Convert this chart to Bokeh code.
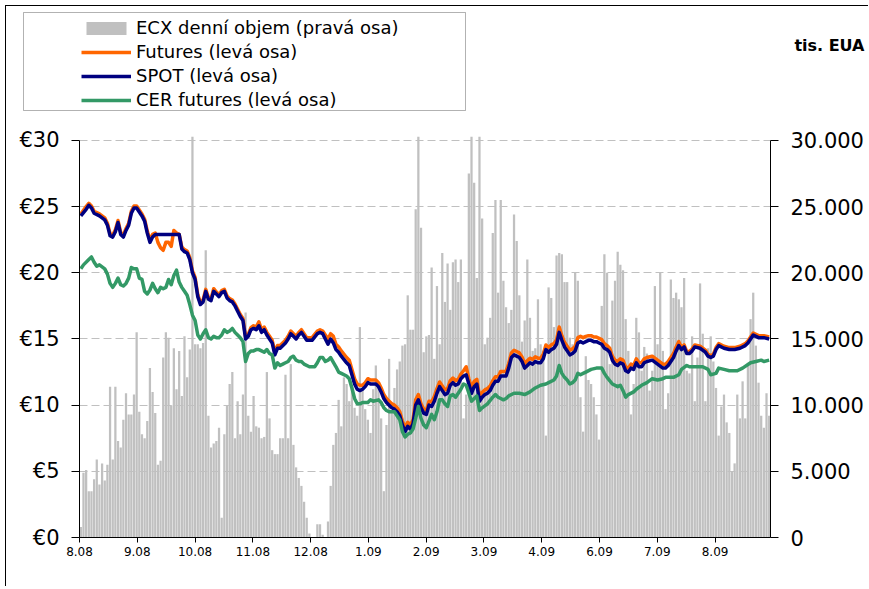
from bokeh.plotting import figure
from bokeh.layouts import column
from bokeh.models import (ColumnDataSource, Range1d, LinearAxis, FixedTicker,
                          Legend, LegendItem, Label, BoxAnnotation)
from bokeh.embed import file_html
from bokeh.resources import INLINE

# ECX daily volume, millions of EUA (= thousands of "tis. EUA"), one value per trading day
volume_mil = [
    0.8, 4.9, 5.1, 3.5, 3.5, 4.4, 5.9, 4.0, 5.6, 4.3, 5.5, 11.4, 5.9, 11.4, 7.3, 6.8, 8.9, 10.9, 9.3, 9.3,
    10.8, 15.5, 9.5, 7.8, 7.5, 8.8, 12.8, 11.0, 9.4, 5.5, 5.8, 13.6, 15.5, 15.1, 10.0, 14.3, 11.2, 14.1, 10.7, 15.2,
    12.1, 14.2, 31.0, 14.6, 14.6, 14.3, 14.7, 21.7,
    9.2, 6.8, 7.1, 7.3, 8.3, 1.5, 7.8, 10.0, 11.6, 12.5, 7.5, 10.3, 7.8, 10.8, 17.0, 9.2, 8.0, 10.7, 8.4, 8.3,
    7.5, 7.6, 12.5, 9.0, 6.6, 6.3, 6.3, 7.5, 7.5,
    12.3, 7.5, 13.1, 7.0, 5.3, 4.5, 3.9, 2.7, 1.5, 0.3,
    0.0, 0.0, 1.0, 1.0, 0.2, 0.0, 1.2, 3.9, 7.0, 7.9,
    10.4, 8.4, 12.1, 11.6, 10.3, 11.3, 9.8, 9.2, 15.9, 11.6,
    9.7, 8.9, 7.9, 11.2, 13.0, 11.6, 9.0, 3.5, 8.5, 13.5,
    9.5, 11.3, 12.7, 13.3, 14.5, 14.6, 18.3, 15.7, 15.7, 24.8,
    31.0, 23.4, 14.0, 15.2, 15.3, 20.4, 13.5, 19.0, 14.6, 21.5,
    17.8, 20.7, 17.2, 20.8, 21.0, 19.3, 21.0, 9.0, 10.8, 27.5,
    31.0, 26.8, 19.6, 31.0, 24.1, 14.6, 15.1, 16.6, 23.0, 25.5,
    18.5, 25.5, 19.4, 17.4, 16.2, 17.2, 24.4, 22.4, 18.3, 14.8,
    16.4, 21.0, 16.6, 14.1, 14.3, 18.0, 14.6, 14.1, 7.7, 18.9,
    18.1, 15.9, 21.3, 21.5, 21.4, 19.3, 19.3, 15.1, 14.6, 20.0,
    19.4,
    10.6, 8.0, 13.7, 11.9, 11.6, 10.6, 9.3, 7.4, 17.5, 21.4,
    20.0, 13.1, 17.9, 19.4, 21.6, 20.6, 20.2, 16.5, 14.1, 9.3,
    11.6, 16.6, 15.5, 12.6, 14.4, 13.9, 11.1, 12.6, 19.0, 14.6,
    20.0, 14.1, 9.7, 10.9, 19.5, 18.1, 18.5, 18.0, 17.4, 19.6,
    12.6, 12.4, 15.2, 10.3, 13.6, 19.2, 15.4, 10.3, 14.3, 15.2,
    13.3, 11.3, 7.7, 9.9, 10.8, 8.7, 7.9, 5.0, 5.6, 10.8,
    9.0, 11.8, 9.0, 13.2, 16.5, 18.5, 14.5, 11.7, 9.2, 8.3,
    10.9, 9.2,
]

# trading-day index of the price observations (EUR / EUA)
price_day = [
    0, 2, 3, 4, 5, 7, 9, 10, 11, 12, 13, 14, 15, 16, 17, 18, 19, 20, 21, 22, 23, 24, 25, 26, 27, 28,
    29, 30, 31, 32, 33, 34, 35, 36, 37,
    38, 39, 40, 41, 42, 43, 44, 45, 46, 47, 48, 49, 50, 51, 52, 53, 54, 55, 56, 57, 58, 59, 60, 61, 62, 63, 64,
    65, 66, 67, 68, 69, 70, 71, 72, 73, 74, 75, 77, 78, 79, 80, 81, 82, 83, 84, 85, 87, 89, 90, 91, 92, 93, 94, 95,
    96, 97, 98, 100, 101, 102, 103, 104, 105,
    106, 107, 108, 109, 110, 111, 112, 113, 114, 115, 116, 117, 118, 119, 120, 121, 122, 123, 124, 125,
    126, 127, 128, 129, 130,
    131, 132, 133, 134, 135, 136, 137, 138, 139, 140, 141, 142, 143, 144, 145, 146, 147, 148, 149, 150,
    151, 152, 153, 154, 155, 156, 157, 158, 159, 160, 161, 162, 163, 164, 165, 166, 167, 168, 169, 170,
    171, 172, 173, 174, 175, 176, 177, 178, 179, 180, 181, 182, 183, 184, 185, 186, 187, 188, 189, 190,
    191, 192, 193, 194, 195, 196, 197,
    198, 199, 200, 201, 202, 203, 204, 205, 206, 207, 208, 209, 210, 211, 212, 213, 215, 217, 219, 220,
    221, 222, 223, 224, 225,
    226, 227, 228, 229, 230, 231, 233, 235, 236, 237, 238, 239, 240, 242, 244, 246, 248, 250, 251, 252,
    253, 254, 255, 257, 259,
]

spot = [
    24.3, 24.8, 25.1, 24.9, 24.5, 24.3, 24.0, 23.6, 22.8, 22.7, 23.1, 23.8, 22.9, 22.7, 23.2, 23.6, 24.5, 24.9, 24.9, 24.6,
    24.3, 23.9, 23.0, 22.3, 22.7, 22.9,
    22.9, 22.9, 22.9, 22.9, 22.9, 22.9, 22.9, 22.9, 22.9,
    21.8, 21.6, 21.5, 21.0, 20.0, 19.5, 18.2, 17.6, 17.8, 18.6, 18.0, 17.9, 18.6, 18.4, 18.2, 18.5, 18.6, 18.1, 17.9, 17.8,
    17.5, 17.1, 16.7, 16.4, 15.0, 15.2, 15.7,
    15.8, 15.7, 16.0, 15.5, 15.7, 15.3, 15.0, 14.7, 13.8, 14.3, 14.3, 14.7, 15.0, 15.4, 15.2, 15.0, 15.3, 15.5, 15.2, 14.9,
    14.9, 15.4, 15.5, 15.4, 15.0, 14.6, 15.0, 14.7,
    14.2, 14.0, 13.7, 13.2, 13.0, 12.3, 11.6, 11.2, 11.1,
    11.2, 11.4, 11.7, 11.6, 11.6, 11.6, 11.4, 11.0, 10.5, 10.2, 10.0, 9.8, 9.7, 9.5, 9.2, 8.5, 8.0, 8.4, 8.2, 8.6,
    10.0, 10.4, 9.8, 9.4, 9.3,
    10.0, 9.9, 10.3, 10.9, 11.4, 11.1, 10.8, 10.9, 11.5, 11.7, 11.5, 11.6, 12.0, 12.2, 12.3, 11.6, 10.9, 11.4, 11.6, 10.3,
    10.6, 10.8, 10.9, 11.1, 11.5, 11.8, 11.8, 12.2, 12.2, 12.2, 12.8, 13.6, 13.8, 13.7, 13.6, 13.3, 12.8, 13.0, 13.2, 13.1,
    13.3, 13.2, 13.2, 13.5, 14.2, 14.0, 14.2, 14.3, 14.6, 15.5, 14.9, 14.4, 14.1, 13.8, 13.9, 14.1, 14.7, 14.8, 14.7, 14.8,
    14.9, 14.9, 14.8, 14.8, 14.7, 14.6, 14.3,
    14.2, 14.0, 13.4, 13.1, 13.0, 13.2, 13.1, 12.6, 12.5, 12.8, 12.7, 13.2, 12.9, 12.9, 13.2, 13.3, 13.4, 13.1, 12.8, 12.8,
    13.0, 13.3, 13.6, 14.1, 14.5,
    14.2, 14.4, 13.9, 13.9, 14.1, 14.4, 14.3, 14.0, 13.7, 13.6, 13.7, 14.2, 14.5, 14.3, 14.2, 14.2, 14.3, 14.5, 14.7, 15.0,
    15.3, 15.2, 15.1, 15.1, 15.0,
]

futures = [
    24.45, 25.0, 25.25, 25.05, 24.65, 24.45, 24.15, 23.75, 22.95, 22.85, 23.25, 23.95, 23.05, 22.85, 23.35, 23.75, 24.65, 25.05, 25.05, 24.75,
    24.45, 24.05, 23.15, 22.5, 22.9, 23.0,
    22.3, 21.9, 21.7, 22.3, 22.3, 22.0, 23.2, 23.0, 22.9,
    21.95, 21.75, 21.65, 21.15, 20.15, 19.65, 18.35, 17.75, 17.95, 18.75, 18.15, 18.05, 18.8, 18.55, 18.35, 18.65, 18.75, 18.25, 18.05, 17.95,
    17.65, 17.25, 16.85, 16.55, 15.15, 15.35, 15.85,
    16.0, 15.9, 16.3, 15.7, 15.9, 15.5, 15.2, 14.9, 14.0, 14.5, 14.5, 14.9, 15.2, 15.6, 15.4, 15.2, 15.5, 15.7, 15.4, 15.1,
    15.1, 15.6, 15.7, 15.6, 15.3, 15.0, 15.4, 15.2,
    14.6, 14.4, 14.1, 13.6, 13.4, 12.7, 12.0, 11.6, 11.5,
    11.5, 11.7, 12.0, 11.9, 11.9, 11.9, 11.7, 11.3, 10.8, 10.5, 10.3, 10.1, 10.0, 9.8, 9.5, 8.8, 8.3, 8.7, 8.5, 8.9,
    10.4, 10.8, 10.1, 9.7, 9.6,
    10.3, 10.25, 10.65, 11.25, 11.75, 11.45, 11.15, 11.25, 11.85, 12.05, 11.85, 11.95, 12.35, 12.6, 12.9, 12.0, 11.3, 11.8, 11.95, 10.7,
    10.95, 11.15, 11.25, 11.45, 11.85, 12.15, 12.15, 12.55, 12.55, 12.55, 13.15, 13.95, 14.15, 14.05, 13.95, 13.65, 13.15, 13.35, 13.55, 13.45,
    13.65, 13.55, 13.55, 13.85, 14.55, 14.35, 14.55, 14.65, 14.95, 15.9, 15.25, 14.75, 14.45, 14.15, 14.25, 14.45, 15.1, 15.2, 15.1, 15.2,
    15.25, 15.25, 15.15, 15.15, 15.05, 14.95, 14.65,
    14.5, 14.3, 13.7, 13.4, 13.3, 13.5, 13.4, 12.9, 12.8, 13.1, 13.0, 13.5, 13.2, 13.2, 13.5, 13.6, 13.7, 13.4, 13.1, 13.1,
    13.3, 13.6, 13.9, 14.4, 14.8,
    14.35, 14.55, 14.05, 14.05, 14.25, 14.55, 14.45, 14.15, 13.85, 13.75, 13.85, 14.35, 14.65, 14.45, 14.35, 14.35, 14.45, 14.65, 14.85, 15.15,
    15.45, 15.35, 15.25, 15.25, 15.15,
]

cer_day = [
    0, 1, 3, 4, 5, 6, 7, 9, 10, 11, 12, 13, 14, 15, 16, 17, 18, 19, 20, 21, 22, 23, 24, 25, 26, 27, 28, 29, 30, 31,
    32, 33, 34, 35, 36, 37, 38, 39, 40, 41, 42, 43, 44, 45, 46, 47, 48, 49, 50, 51, 52, 53, 54, 55, 56, 57, 58, 59, 60, 61,
    62, 63, 64, 65, 66, 67, 68, 69, 70, 71, 72, 73, 74, 75, 76, 77, 78, 79, 80, 81, 82, 83, 84, 86, 88, 89, 90, 91, 92, 93,
    94, 96, 97, 98, 100, 101, 102, 103, 104, 105, 106, 108, 109, 110, 112, 113, 114, 115, 116, 118, 119, 120, 121, 122, 123, 124,
    125, 126, 127, 128, 129, 130, 131, 132, 133, 134, 135, 136, 137, 138, 139, 140, 141, 142, 143, 144, 145, 146, 147, 148,
    149, 150, 151, 153, 155, 156, 157, 158, 159, 160, 161, 163, 165, 167, 169, 171, 173, 175, 176, 178, 179, 180, 181, 182,
    183, 184, 185, 186, 187, 188, 189, 190, 192, 194, 196, 197, 198, 200, 202, 203, 204, 205, 206, 208, 209, 211, 213, 215,
    217, 219, 220, 223, 225, 226, 228, 229, 232, 234, 236, 237, 239, 240, 242, 244, 247, 249, 252, 254, 256, 257, 259,
]

cer = [
    20.3, 20.6, 21.0, 21.2, 20.8, 20.5, 20.6, 20.3, 19.9, 19.2, 18.9, 19.2, 19.6, 19.1, 19.0, 19.2, 19.6, 20.4, 20.3, 20.3,
    19.6, 19.5, 18.6, 18.4, 18.7, 19.2, 18.8, 18.5, 18.9, 18.8,
    18.9, 19.5, 19.1, 19.8, 20.2, 19.3, 18.9, 18.6, 18.3, 17.6, 16.8, 16.4, 15.3, 15.0, 15.4, 15.7, 15.1, 15.0, 15.2, 15.1,
    15.1, 15.3, 15.7, 15.5, 15.6, 15.8, 15.5, 15.3, 15.1, 14.8,
    13.3, 13.9, 14.1, 14.1, 14.2, 14.2, 14.1, 14.0, 14.2, 13.9, 13.8, 12.8, 13.2, 13.0, 13.1, 13.2, 13.3, 13.6, 13.7, 13.4,
    13.3, 13.3, 13.1, 12.9, 12.9, 13.2, 13.6, 13.6, 13.3, 13.4,
    13.6, 12.9, 12.5, 12.4, 12.2, 12.0, 11.3, 10.5, 10.1, 10.1, 10.2, 10.2, 10.4, 10.3, 10.4, 10.2, 9.8, 9.6, 9.5, 9.5,
    9.2, 8.9, 8.0, 7.6, 7.8, 7.9,
    8.2, 9.0, 9.9, 9.0, 8.5, 8.3, 8.8, 9.3, 8.9, 9.5, 10.4, 10.4, 10.1, 9.9, 10.7, 10.8, 10.6, 10.9, 11.2, 11.6,
    11.5, 10.9, 10.3, 10.5,
    10.7, 9.6, 9.8, 10.1, 10.6, 10.8, 10.6, 10.5, 10.4, 10.5, 10.7, 10.9, 10.9, 10.8, 11.0, 11.3, 11.5, 11.6, 11.7, 11.9,
    12.2, 13.0, 12.4, 12.1,
    11.9, 11.6, 11.7, 11.9, 12.4, 12.3, 12.4, 12.5, 12.7, 12.8, 12.8, 12.4, 12.1, 11.6, 11.4, 11.5, 11.1, 10.6, 10.8, 11.0,
    11.2, 11.5, 11.7, 12.0,
    11.9, 12.0, 12.1, 12.1, 12.3, 12.7, 13.0, 12.9, 12.9, 12.9, 12.7, 12.3, 12.4, 12.8, 12.7, 12.6, 12.6, 12.8, 13.2, 13.3,
    13.4, 13.3, 13.4,
]

month_labels = ["8.08", "9.08", "10.08", "11.08", "12.08", "1.09", "2.09",
                "3.09", "4.09", "6.09", "7.09", "8.09"]
DAYS_PER_LABEL = 21.74

price_ticks = [0, 5, 10, 15, 20, 25, 30]
price_labels = ["€0", "€5", "€10", "€15", "€20", "€25", "€30"]
volume_labels = ["0", "5.000", "10.000", "15.000", "20.000", "25.000", "30.000"]

series_names = ["ECX denní objem (pravá osa)", "Futures (levá osa)",
                "SPOT (levá osa)", "CER futures (levá osa)"]
unit_text = "tis. EUA"

FONT = "DejaVu Sans"
BAR_C, FUT_C, SPOT_C, CER_C = "#c0c0c0", "#ff6600", "#000080", "#339966"
Y_TOP = 30.3  # axis maximum; taller bars are cut off there, as in the original

n_days = len(volume_mil)
bar_src = ColumnDataSource(dict(day=list(range(n_days)),
                                vol=[min(v, Y_TOP) for v in volume_mil]))
price_src = ColumnDataSource(dict(day=price_day, spot=spot, fut=futures))
cer_src = ColumnDataSource(dict(day=cer_day, cer=cer))

W = 862
NAN = float("nan")

# ---------------- header: legend + unit label ----------------
hdr = figure(width=W, height=110, output_backend="svg", toolbar_location=None, title=None,
             x_range=Range1d(6, 6 + W), y_range=Range1d(116, 6),
             min_border_left=0, min_border_right=0, min_border_top=0, min_border_bottom=0,
             x_axis_type=None, y_axis_type=None)
hdr.frame_align = False
hdr.outline_line_color = None
hdr.background_fill_color = "white"
hdr.border_fill_color = "white"

# legend keys (no visible data of their own)
k_bar = hdr.vbar(x=[NAN], top=[NAN], width=1, fill_color=BAR_C, line_color=None)
k_fut = hdr.line(x=[NAN, NAN], y=[NAN, NAN], line_color=FUT_C, line_width=3.5)
k_spot = hdr.line(x=[NAN, NAN], y=[NAN, NAN], line_color=SPOT_C, line_width=3.5)
k_cer = hdr.line(x=[NAN, NAN], y=[NAN, NAN], line_color=CER_C, line_width=3.5)

legend = Legend(items=[LegendItem(label=n, renderers=[r]) for n, r in
                       zip(series_names, [k_bar, k_fut, k_spot, k_cer])],
                location=(75, 6), orientation="vertical", border_line_color=None,
                background_fill_alpha=0, padding=4, spacing=3, label_height=20,
                glyph_height=16, glyph_width=50, label_standoff=5, margin=0,
                label_text_font=FONT, label_text_font_size="18px", label_text_color="black")
hdr.add_layout(legend)

hdr.add_layout(BoxAnnotation(left=23, right=465, top=12, bottom=110,
                             fill_color=None, line_color="black", line_width=1))
hdr.add_layout(Label(x=864, y=45, text=unit_text, text_align="right", text_baseline="middle",
                     text_font=FONT, text_font_size="16px", text_font_style="bold",
                     text_color="black"))

# ---------------- main chart ----------------
p = figure(width=W, height=470, output_backend="svg", toolbar_location=None,
           title=None, x_range=Range1d(-0.5, n_days - 0.5), y_range=Range1d(0, Y_TOP),
           min_border_left=73, min_border_right=98, min_border_top=20, min_border_bottom=49)
p.frame_align = False
p.extra_y_ranges = {"vol": Range1d(0, Y_TOP)}
p.outline_line_color = None
p.background_fill_color = "white"
p.border_fill_color = "white"

p.vbar(x="day", top="vol", width=0.85, source=bar_src, y_range_name="vol",
       fill_color=BAR_C, line_color=None)
p.line("day", "fut", source=price_src, line_color=FUT_C, line_width=3.5, line_join="round")
p.line("day", "spot", source=price_src, line_color=SPOT_C, line_width=3.5, line_join="round")
p.line("day", "cer", source=cer_src, line_color=CER_C, line_width=3.5, line_join="round")

p.xgrid.visible = False
p.ygrid.ticker = FixedTicker(ticks=price_ticks)
p.ygrid.grid_line_color = "#c0c0c0"
p.ygrid.grid_line_dash = "8 4"
p.ygrid.grid_line_width = 1

ly = p.yaxis[0]
ly.ticker = FixedTicker(ticks=price_ticks)
ly.major_label_overrides = {t: s for t, s in zip(price_ticks, price_labels)}
ry = LinearAxis(y_range_name="vol", ticker=FixedTicker(ticks=price_ticks))
ry.major_label_overrides = {t: s for t, s in zip(price_ticks, volume_labels)}
p.add_layout(ry, "right")
for ax in (ly, ry):
    ax.bounds = (0, 30)
    ax.major_tick_out = 8
    ax.major_tick_in = 0
    ax.minor_tick_out = 0
    ax.minor_tick_in = 0
    ax.axis_line_color = "black"
    ax.major_tick_line_color = "black"
    ax.major_label_text_font = FONT
    ax.major_label_text_font_size = "21px"
    ax.major_label_text_color = "black"
    ax.major_label_standoff = 12

month_ticks = [round(-0.5 + i * DAYS_PER_LABEL, 2) for i in range(len(month_labels))]
bx = p.xaxis[0]
bx.ticker = FixedTicker(ticks=month_ticks)
bx.major_label_overrides = {t: s for t, s in zip(month_ticks, month_labels)}
bx.major_tick_out = 5
bx.major_tick_in = 0
bx.minor_tick_out = 0
bx.minor_tick_in = 0
bx.axis_line_color = "black"
bx.major_tick_line_color = "black"
bx.major_label_text_font = FONT
bx.major_label_text_font_size = "12px"
bx.major_label_text_color = "black"
bx.major_label_standoff = 4

page = column(hdr, p, margin=(5, 0, 0, 5), spacing=0,
              styles={"border-left": "1px solid black", "border-top": "1px solid black"})

open("out.html", "w").write(file_html(page, INLINE))
